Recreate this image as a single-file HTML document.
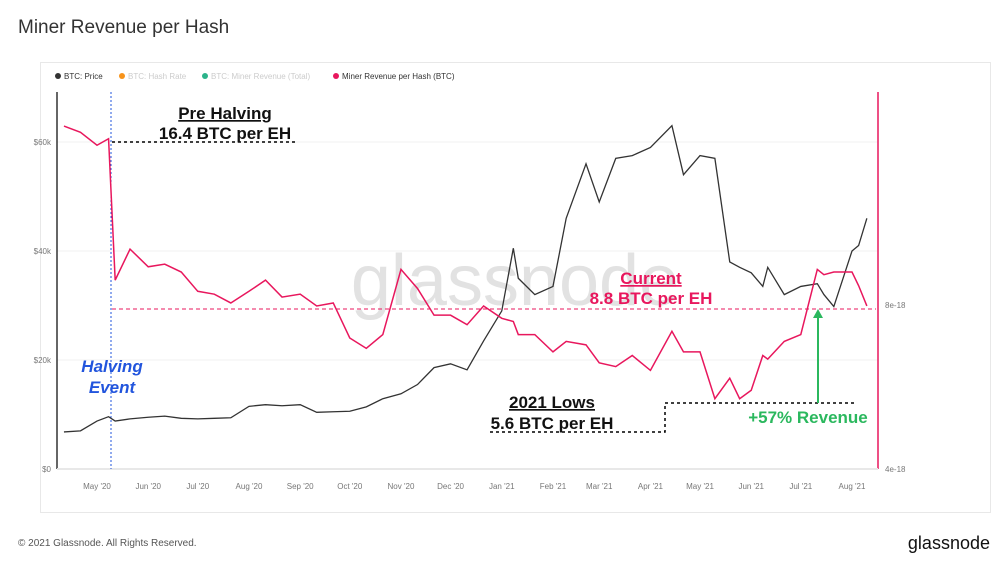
<!DOCTYPE html>
<html><head><meta charset="utf-8"><style>
body{margin:0;width:1000px;height:566px;background:#fff;font-family:"Liberation Sans",sans-serif;overflow:hidden}
</style></head><body>
<svg width="1000" height="566" viewBox="0 0 1000 566">
<text x="18" y="33" font-size="19" fill="#333">Miner Revenue per Hash</text>
<rect x="40.5" y="62.5" width="950" height="450" fill="#fff" stroke="#e8e8e8"/>
<g font-size="8">
<g><circle cx="58" cy="76" r="3" fill="#333"/><text x="64" y="79" fill="#333">BTC: Price</text></g>
<g><circle cx="122" cy="76" r="3" fill="#f7931a"/><text x="128" y="79" fill="#ccc">BTC: Hash Rate</text></g>
<g><circle cx="205" cy="76" r="3" fill="#2bb38a"/><text x="211" y="79" fill="#ccc">BTC: Miner Revenue (Total)</text></g>
<g><circle cx="336" cy="76" r="3" fill="#e8175d"/><text x="342" y="79" fill="#333">Miner Revenue per Hash (BTC)</text></g>
</g>
<g id="grid"></g>
<text x="515" y="305" font-size="72" fill="#e2e2e2" text-anchor="middle">glassnode</text>
<line x1="57" y1="92" x2="57" y2="469" stroke="#333" stroke-width="1.5"/>
<line x1="878" y1="92" x2="878" y2="469" stroke="#e8175d" stroke-width="1.5"/>
<line x1="57" y1="469" x2="878" y2="469" stroke="#e8e8e8" stroke-width="2"/>
<g id="axes" font-size="8" fill="#777"></g>
<line x1="111" y1="92" x2="111" y2="469" stroke="#2255dd" stroke-dasharray="2,2"/>
<line x1="112" y1="309" x2="876" y2="309" stroke="#e8175d" stroke-dasharray="4,3"/>
<g id="series"></g>
<g font-weight="bold">
<line x1="112" y1="142" x2="295" y2="142" stroke="#000" stroke-dasharray="3,3" stroke-width="1.5"/>
<text x="225" y="119" font-size="17" text-anchor="middle" fill="#111" text-decoration="underline">Pre Halving</text>
<text x="225" y="139" font-size="17" text-anchor="middle" fill="#111">16.4 BTC per EH</text>
<text x="112" y="372" font-size="17" text-anchor="middle" fill="#2255dd" font-style="italic">Halving</text>
<text x="112" y="393" font-size="17" text-anchor="middle" fill="#2255dd" font-style="italic">Event</text>
<text x="651" y="284" font-size="17" text-anchor="middle" fill="#e8175d" text-decoration="underline">Current</text>
<text x="651" y="304" font-size="17" text-anchor="middle" fill="#e8175d">8.8 BTC per EH</text>
<text x="552" y="408" font-size="17" text-anchor="middle" fill="#111" text-decoration="underline">2021 Lows</text>
<text x="552" y="429" font-size="17" text-anchor="middle" fill="#111">5.6 BTC per EH</text>
<polyline points="490,432 665,432 665,403 855,403" fill="none" stroke="#000" stroke-dasharray="3,3" stroke-width="1.5"/>
<line x1="818" y1="403" x2="818" y2="316" stroke="#2bb85e" stroke-width="2"/>
<polygon points="818,309 813,318 823,318" fill="#2bb85e"/>
<text x="808" y="423" font-size="17" text-anchor="middle" fill="#2bb85e">+57% Revenue</text>
</g>
<text x="18" y="546" font-size="10" fill="#555">© 2021 Glassnode. All Rights Reserved.</text>
<text x="990" y="549" font-size="18" fill="#111" text-anchor="end">glassnode</text>
</svg>
<script>
const dates=["2020-04-11","2020-04-21","2020-05-01","2020-05-08","2020-05-12","2020-05-21","2020-06-01","2020-06-11","2020-06-21","2020-07-01","2020-07-11","2020-07-21","2020-08-01","2020-08-11","2020-08-21","2020-09-01","2020-09-11","2020-09-21","2020-10-01","2020-10-11","2020-10-21","2020-11-01","2020-11-11","2020-11-21","2020-12-01","2020-12-11","2020-12-21","2021-01-01","2021-01-08","2021-01-11","2021-01-21","2021-02-01","2021-02-09","2021-02-21","2021-03-01","2021-03-11","2021-03-21","2021-04-01","2021-04-14","2021-04-21","2021-05-01","2021-05-10","2021-05-19","2021-05-25","2021-06-01","2021-06-08","2021-06-11","2021-06-21","2021-07-01","2021-07-11","2021-07-15","2021-07-21","2021-08-01","2021-08-05","2021-08-10"];
const priceK=[6.8,7.0,8.8,9.6,8.8,9.2,9.5,9.7,9.3,9.2,9.3,9.4,11.5,11.8,11.6,11.8,10.4,10.5,10.6,11.4,12.9,13.8,15.5,18.6,19.3,18.2,23.5,29.0,40.5,35.0,32.0,33.5,46.0,56.0,49.0,57.0,57.5,59.0,63.0,54.0,57.5,57.0,38.0,37.0,36.0,33.5,37.0,32.0,33.5,34.0,32.0,29.8,40.0,41.0,46.0];
const revPerHash=[17.4,17.0,16.2,16.6,9.8,11.0,10.3,10.4,10.1,9.4,9.3,9.0,9.4,9.8,9.2,9.3,8.9,9.0,7.9,7.6,8.0,10.2,9.5,8.6,8.6,8.3,8.9,8.5,8.4,8.0,8.0,7.5,7.8,7.7,7.2,7.1,7.4,7.0,8.1,7.5,7.5,6.3,6.8,6.3,6.5,7.4,7.3,7.8,8.0,10.2,10.0,10.1,10.1,9.6,8.9];
const monthLabels=["May '20","Jun '20","Jul '20","Aug '20","Sep '20","Oct '20","Nov '20","Dec '20","Jan '21","Feb '21","Mar '21","Apr '21","May '21","Jun '21","Jul '21","Aug '21"];
const monthDates=["2020-05-01","2020-06-01","2020-07-01","2020-08-01","2020-09-01","2020-10-01","2020-11-01","2020-12-01","2021-01-01","2021-02-01","2021-03-01","2021-04-01","2021-05-01","2021-06-01","2021-07-01","2021-08-01"];
const priceTicks=[0,20,40,60];
const revTicks=[4,8];
const NS="http://www.w3.org/2000/svg";
const t0=Date.parse("2020-05-01"),t1=Date.parse("2021-08-01");
function x(d){return 97+(Date.parse(d)-t0)/(t1-t0)*755;}
function yP(v){return 469-v*5.45;}
function yR(v){return 309-186*Math.log2(v/8.8);}
function el(tag,attrs,parent){const e=document.createElementNS(NS,tag);for(const k in attrs)e.setAttribute(k,attrs[k]);parent.appendChild(e);return e;}
const axes=document.getElementById('axes'),grid=document.getElementById('grid'),series=document.getElementById('series');
priceTicks.forEach(v=>{
 const g=el('line',{x1:57,x2:878,y1:yP(v),y2:yP(v),stroke:'#f2f2f2'},grid);
 
 
 const t=el('text',{x:51,y:yP(v)+3,'text-anchor':'end'},axes);t.textContent=v===0?'$0':'$'+v+'k';
 
 
});
revTicks.forEach(v=>{
 const t=el('text',{x:885,y:(v===4?469:305)+3},axes);t.textContent=v+'e-18';
 
 
});
monthLabels.forEach((m,i)=>{
 const t=el('text',{x:x(monthDates[i]),y:489,'text-anchor':'middle'},axes);t.textContent=m;
 
 
});
const pp=el('polyline',{points:dates.map((d,i)=>x(d)+','+yP(priceK[i])).join(' '),fill:'none',stroke:'#333','stroke-width':1.3},series);


const rp=el('polyline',{points:dates.map((d,i)=>x(d)+','+yR(revPerHash[i])).join(' '),fill:'none',stroke:'#e8175d','stroke-width':1.5},series);


</script>
</body></html>
